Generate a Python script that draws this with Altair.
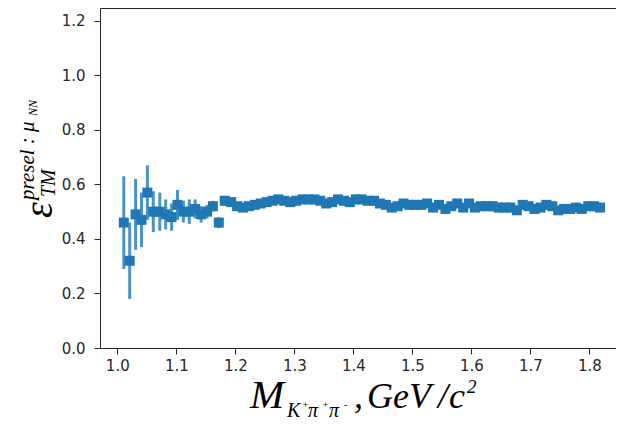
import altair as alt
import pandas as pd

# ---- data ----
mass = [1.011, 1.021, 1.031, 1.041, 1.051, 1.061, 1.072, 1.082, 1.092, 1.102,
        1.112, 1.122, 1.132, 1.142, 1.152, 1.162, 1.172, 1.182, 1.193, 1.203,
        1.213, 1.223, 1.233, 1.243, 1.253, 1.263, 1.273, 1.283, 1.293, 1.303,
        1.314, 1.324, 1.334, 1.344, 1.354, 1.364, 1.374, 1.384, 1.394, 1.404,
        1.414, 1.424, 1.435, 1.445, 1.455, 1.465, 1.475, 1.485, 1.495, 1.505,
        1.515, 1.525, 1.535, 1.545, 1.556, 1.566, 1.576, 1.586, 1.596, 1.606,
        1.616, 1.626, 1.636, 1.646, 1.656, 1.666, 1.677, 1.687, 1.697, 1.707,
        1.717, 1.727, 1.737, 1.747, 1.757, 1.767, 1.777, 1.787, 1.798, 1.808,
        1.818]
eff = [0.46, 0.32, 0.49, 0.47, 0.57, 0.50, 0.50, 0.49, 0.48, 0.525,
       0.50, 0.50, 0.51, 0.49, 0.50, 0.52, 0.46, 0.54, 0.535, 0.52,
       0.515, 0.52, 0.525, 0.53, 0.535, 0.54, 0.545, 0.54, 0.535, 0.54,
       0.545, 0.545, 0.545, 0.54, 0.53, 0.535, 0.545, 0.54, 0.535, 0.545,
       0.545, 0.54, 0.54, 0.53, 0.525, 0.515, 0.52, 0.53, 0.525, 0.525,
       0.525, 0.53, 0.515, 0.525, 0.51, 0.52, 0.53, 0.515, 0.53, 0.515,
       0.52, 0.52, 0.52, 0.515, 0.515, 0.515, 0.505, 0.525, 0.52, 0.51,
       0.515, 0.525, 0.52, 0.505, 0.51, 0.51, 0.515, 0.51, 0.52, 0.52,
       0.515]
err = [0.17, 0.14, 0.13, 0.10, 0.10, 0.075, 0.07, 0.055, 0.05, 0.055,
       0.04, 0.045, 0.035, 0.03, 0.025, 0.02, 0.02, 0.018, 0.016, 0.015,
       0.014, 0.014, 0.014, 0.014, 0.014, 0.014, 0.014, 0.014, 0.014, 0.014,
       0.014, 0.014, 0.014, 0.014, 0.014, 0.014, 0.014, 0.014, 0.014, 0.014,
       0.012, 0.012, 0.012, 0.012, 0.012, 0.012, 0.012, 0.012, 0.012, 0.012,
       0.012, 0.012, 0.012, 0.012, 0.012, 0.012, 0.012, 0.012, 0.012, 0.012,
       0.012, 0.012, 0.012, 0.012, 0.012, 0.012, 0.012, 0.012, 0.012, 0.012,
       0.012, 0.012, 0.012, 0.012, 0.012, 0.012, 0.012, 0.012, 0.012, 0.012,
       0.012]
x_ticks = [1.0, 1.1, 1.2, 1.3, 1.4, 1.5, 1.6, 1.7, 1.8]
y_ticks = [0.0, 0.2, 0.4, 0.6, 0.8, 1.0, 1.2]

# title pieces
xt_main = "M"
xt_sub_letters = ["K", "π", "π"]
xt_sub_charges = ["+", "+", "-"]
xt_comma = ","
xt_gev = "GeV"
xt_slash = "/"
xt_c = "c"
xt_sup = "2"
yt_main = "ε"
yt_sub = "TM"
yt_sup = "presel : μ"
yt_supsub = "NN"

df = pd.DataFrame({"m": mass, "eff": eff, "err": err})
df["lo"] = df["eff"] - df["err"]
df["hi"] = df["eff"] + df["err"]

W, H = 516, 340
BLUE = "#1f77b4"
xs = alt.Scale(domain=[0.9707, 1.845], nice=False, zero=False)
ys = alt.Scale(domain=[0.0, 1.247], nice=False, zero=False)

base = alt.Chart(df)
bars = base.mark_rule(color=BLUE, opacity=0.8, strokeWidth=3).encode(
    x=alt.X("m:Q", scale=xs,
            axis=alt.Axis(values=x_ticks, format=".1f", title=None,
                          labelPadding=4)),
    y=alt.Y("lo:Q", scale=ys,
            axis=alt.Axis(values=y_ticks, format=".1f", title=None,
                          labelPadding=9)),
    y2="hi:Q",
)
pts = base.mark_square(size=100, color=BLUE, opacity=1).encode(
    x=alt.X("m:Q", scale=xs), y=alt.Y("eff:Q", scale=ys)
)

one = pd.DataFrame({"k": [0]})
SERIF = "Liberation Serif"


def txt(s, x, y, size, angle=0):
    kw = dict(text=s, font=SERIF, fontSize=size, fontStyle="italic",
              align="left", baseline="alphabetic", color="black")
    if angle:
        kw["angle"] = angle
    return alt.Chart(one).mark_text(**kw).encode(
        x=alt.value(x), y=alt.value(y))


sub_x = [187, 208, 229]
chg_x = [202, 222, 244]

titles = [txt(xt_main, 150, 400, 41)]
for s, px in zip(xt_sub_letters, sub_x):
    titles.append(txt(s, px, 409, 20))
for s, px in zip(xt_sub_charges, chg_x):
    titles.append(txt(s, px, 400, 10))
titles += [
    txt(xt_comma, 254, 400, 36),
    txt(xt_gev, 267, 400, 36),
    txt(xt_slash, 338, 400, 36),
    txt(xt_c, 349, 400, 36),
    txt(xt_sup, 367, 385, 19),
    txt(yt_main, -48, 210, 40, 270),
    txt(yt_sub, -45, 189, 20, 270),
    txt(yt_sup, -66, 192, 21, 270),
    txt(yt_supsub, -63, 108, 12, 270),
]

chart = alt.layer(bars, pts, *titles).properties(
    width=W, height=H,
    autosize=alt.AutoSizeParams(type="none"),
    padding={"left": 92, "top": 0, "right": 0, "bottom": 74},
).configure_view(
    stroke="#262626", strokeWidth=1
).configure_axis(
    domain=False, grid=False, ticks=True, tickSize=6, tickColor="#262626",
    tickWidth=1, labelFont="DejaVu Sans", labelFontSize=15,
    labelColor="#262626",
)

chart.save("out.html", embed_options={"renderer": "svg", "actions": False})
